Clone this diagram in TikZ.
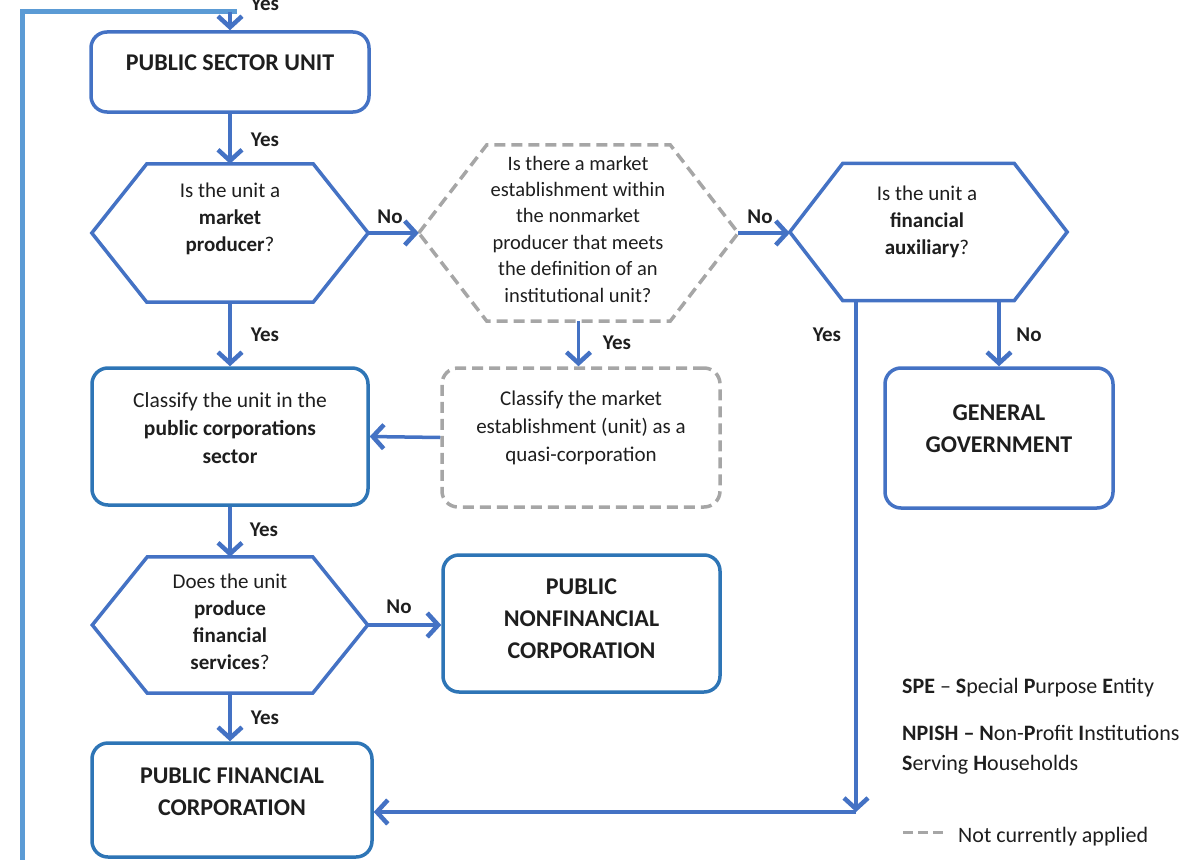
\documentclass[tikz,border=0pt]{standalone}
\usepackage{fontspec}
\setmainfont{Carlito}
\usetikzlibrary{arrows.meta,calc}
\definecolor{mblue}{HTML}{4472C4}
\definecolor{dblue}{HTML}{2E75B6}
\definecolor{lblue}{HTML}{5B9BD5}
\definecolor{lgray}{HTML}{A6A6A6}
\definecolor{ink}{HTML}{1E1E1E}
\begin{document}
\begin{tikzpicture}[x=1pt,y=-1pt,
  box/.style={draw=#1, line width=3.5pt, rounded corners=16pt, fill=white},
  dbox/.style={draw=lgray, line width=3.5pt, rounded corners=16pt, dash pattern=on 11pt off 6pt},
  hexnode/.style={draw=none, inner sep=0pt},
  hexline/.style={draw=mblue, line width=3.5pt, line join=miter},
  hexdash/.style={draw=lgray, line width=3.5pt, dash pattern=on 11pt off 6pt},
  arr/.style={draw=mblue, line width=3.5pt, -{Straight Barb[length=11pt,width=24pt,line width=4.5pt]}},
  txt/.style={align=center, font=\fontsize{21}{27}\selectfont, text=ink, inner sep=0pt},
  ttl/.style={align=center, font=\fontsize{24}{32}\selectfont\bfseries, text=ink, inner sep=0pt},
  lab/.style={font=\fontsize{21}{24}\selectfont\bfseries, text=ink, inner sep=0pt},
  leg/.style={align=left, anchor=west, font=\fontsize{22}{30}\selectfont, text=ink, inner sep=0pt},
]
\useasboundingbox (0,0) rectangle (1204,859);

% boxes
\node[box=mblue, minimum width=278pt, minimum height=80pt] (psu) at (230,72) {};
\node[box=dblue, minimum width=276pt, minimum height=137pt] (cls) at (230,436.5) {};
\node[dbox, minimum width=278pt, minimum height=139pt] (qbox) at (581,437.5) {};
\node[box=dblue, minimum width=277pt, minimum height=137pt] (pnfc) at (581.5,623.5) {};
\node[box=dblue, minimum width=280pt, minimum height=114pt] (pfc) at (232,800) {};
\node[box=mblue, minimum width=228pt, minimum height=140pt] (gg) at (999,438) {};

% hexagon frames
\node[hexnode, minimum width=276pt, minimum height=138pt] (h1) at (230,233) {};
\node[hexnode, minimum width=319pt, minimum height=176pt] (h2) at (578.5,233) {};
\node[hexnode, minimum width=277pt, minimum height=137pt] (h3) at (928.5,232) {};
\node[hexnode, minimum width=275pt, minimum height=136pt] (h4) at (230,625) {};
\foreach \n/\t in {h1/55,h3/53,h4/55}
  \draw[hexline] (\n.west) -- ([xshift=\t pt]\n.north west) -- ([xshift=-\t pt]\n.north east)
    -- (\n.east) -- ([xshift=-\t pt]\n.south east) -- ([xshift=\t pt]\n.south west) -- cycle;
\draw[hexdash] (h2.west) -- ([xshift=68pt]h2.north west) -- ([xshift=-68pt]h2.north east)
    -- (h2.east) -- ([xshift=-68pt]h2.south east) -- ([xshift=68pt]h2.south west) -- cycle;

% texts
\node[ttl] (psut) at (230,63) {PUBLIC SECTOR UNIT};
\node[txt] (h1t) at (230,219) {Is the unit a\\\textbf{market}\\\textbf{producer}?};
\node[txt, font=\fontsize{20.5}{26.4}\selectfont] (h2t) at (578,229) {Is there a market\\establishment within\\the nonmarket\\producer that meets\\the definition of an\\institutional unit?};
\node[txt] (h3t) at (927,222) {Is the unit a\\\textbf{financial}\\\textbf{auxiliary}?};
\node[txt, font=\fontsize{21.5}{28}\selectfont] (clst) at (230,428) {Classify the unit in the\\\textbf{public corporations}\\\textbf{sector}};
\node[txt, font=\fontsize{21}{28}\selectfont] (qboxt) at (581,428) {Classify the market\\establishment (unit) as a\\quasi-corporation};
\node[ttl] (ggt) at (999,429) {GENERAL\\GOVERNMENT};
\node[txt] (h4t) at (230,622) {Does the unit\\\textbf{produce}\\\textbf{financial}\\\textbf{services}?};
\node[ttl] (pnfct) at (581.5,619) {PUBLIC\\NONFINANCIAL\\CORPORATION};
\node[ttl] (pfct) at (232,792) {PUBLIC FINANCIAL\\CORPORATION};

% loop line from the left
\coordinate (lp0) at (22,900);
\coordinate (lp1) at (22,12);
\coordinate (lp2) at (237,12);
\coordinate (lp3) at (230,12);
\draw[lblue, line width=5pt] (lp0) -- (lp1) -- (lp2);
\draw[arr] (lp3) -- (psu.north);
\node[lab] (ytop) at (265,4) {Yes};

% connectors
\draw[arr] (psu.south) -- (h1.north);
\draw[arr] (h1.east) -- (h1.east -| h2.west);
\draw[arr] (h2.east) -- (h2.east -| h3.west);
\draw[arr] (h2.south) -- (h2.south |- qbox.north);
\draw[arr] (qbox.west) -- (cls.east);
\draw[arr] (h1.south) -- (cls.north);
\draw[arr] (cls.south) -- (h4.north);
\draw[arr] (h4.east) -- (h4.east -| pnfc.west);
\draw[arr] (h4.south) -- (h4.south |- pfc.north);
\draw[arr] (gg.north |- h3.south) -- (gg.north);
\coordinate (yc) at (856,812);
\draw[arr] (yc |- h3.south) -- (yc);
\draw[arr] (yc) -- (yc -| pfc.east);

% connector labels
\node[lab] (l1) at (265,140) {Yes};
\node[lab] (l2) at (390,217) {No};
\node[lab] (l3) at (760,217) {No};
\node[lab] (l4) at (617,343) {Yes};
\node[lab] (l5) at (265,335) {Yes};
\node[lab] (l6) at (827,335) {Yes};
\node[lab] (l7) at (1029,335) {No};
\node[lab] (l8) at (264,530) {Yes};
\node[lab] (l9) at (399,607) {No};
\node[lab] (l10) at (265,718) {Yes};

% legend
\node[leg] (spe) at (902,688) {\textbf{SPE} – \textbf{S}pecial \textbf{P}urpose \textbf{E}ntity};
\node[leg] (npish) at (902,750) {\textbf{NPISH – N}on-\textbf{P}rofit \textbf{I}nstitutions\\\textbf{S}erving \textbf{H}ouseholds};
\coordinate (dl0) at (903,832);
\coordinate (dl1) at (946,832);
\draw[lgray, line width=3pt, dash pattern=on 10pt off 5pt] (dl0) -- (dl1);
\node[leg] (nca) at (958,837) {Not currently applied};
\end{tikzpicture}
\end{document}
